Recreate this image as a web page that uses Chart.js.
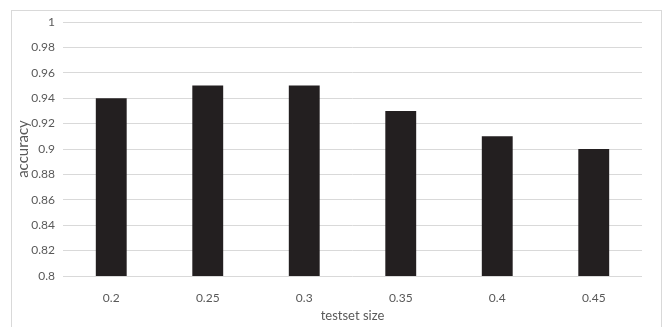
<!DOCTYPE html>
<html>
<head>
<meta charset="utf-8">
<script src="https://cdn.jsdelivr.net/npm/chart.js@4/dist/chart.umd.min.js"></script>
<style>
  html, body { margin: 0; padding: 0; background: #ffffff; }
  #wrap { position: relative; width: 668px; height: 327px; }
</style>
</head>
<body>
<div id="wrap"><canvas id="c" width="668" height="327"></canvas></div>
<script>
// testset size vs. accuracy
const categories = ['0.2', '0.25', '0.3', '0.35', '0.4', '0.45'];
const accuracy = [0.94, 0.95, 0.95, 0.93, 0.91, 0.90];
const yTicks = [0.8, 0.82, 0.84, 0.86, 0.88, 0.9, 0.92, 0.94, 0.96, 0.98, 1];

const textColor = '#595959';
const gridColor = '#d9d9d9';
const font = { family: 'Lato, "Open Sans", sans-serif', size: 12 };

// light frame around the whole chart
const framePlugin = {
  id: 'frame',
  beforeDraw(chart) {
    const ctx = chart.ctx;
    ctx.save();
    ctx.fillStyle = '#ffffff';
    ctx.fillRect(0, 0, chart.width, chart.height);
    ctx.strokeStyle = '#d9d9d9';
    ctx.lineWidth = 1;
    ctx.strokeRect(11.5, 10.5, 650, 340);
    ctx.restore();
  }
};

new Chart(document.getElementById('c'), {
  type: 'bar',
  data: {
    labels: categories,
    datasets: [{
      data: accuracy,
      backgroundColor: '#231f20',
      borderWidth: 0,
      categoryPercentage: 1,
      barPercentage: 0.32
    }]
  },
  options: {
    responsive: false,
    animation: false,
    layout: { padding: { top: 22, right: 26, bottom: 0, left: 0 } },
    plugins: { legend: { display: false }, tooltip: { enabled: false } },
    scales: {
      x: {
        grid: { display: false },
        border: { display: false },
        ticks: { color: textColor, font: font, padding: 7 },
        title: { display: true, text: 'testset size', color: textColor, font: { family: font.family, size: 13 }, padding: { top: 0, bottom: 3 } },
        afterFit(scale) { scale.height = 51; }
      },
      y: {
        min: 0.8,
        max: 1,
        afterBuildTicks(scale) { scale.ticks = yTicks.map(v => ({ value: v })); },
        grid: { color: gridColor, lineWidth: 1, drawTicks: false },
        border: { display: false },
        ticks: {
          color: textColor, font: font, padding: 8,
          callback: (v) => String(Math.round(v * 100) / 100)
        },
        title: { display: true, text: 'accuracy', color: textColor, font: { family: font.family, size: 15 }, padding: { top: 14, bottom: 0 } },
        afterFit(scale) { scale.width = 63; }
      }
    }
  },
  plugins: [framePlugin]
});
</script>
</body>
</html>
